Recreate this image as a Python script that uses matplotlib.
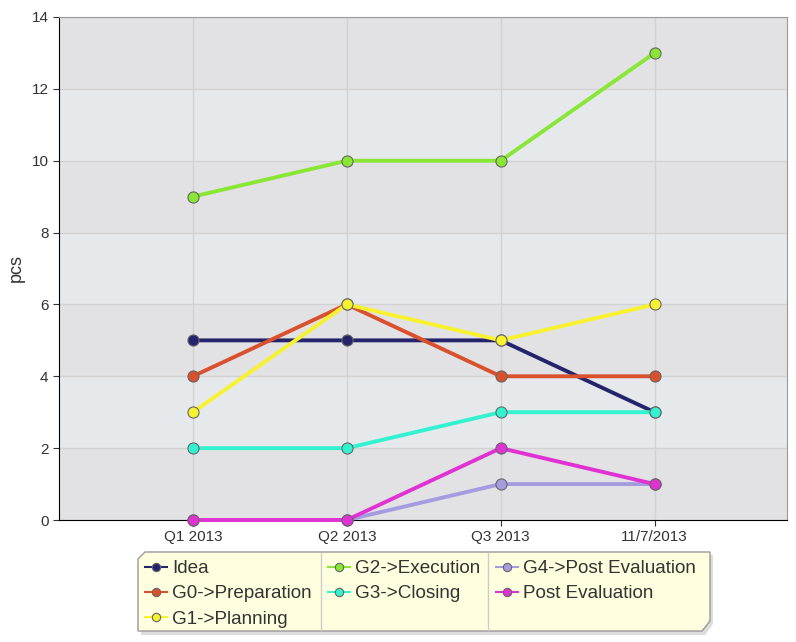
import matplotlib.pyplot as plt
from matplotlib.lines import Line2D
from matplotlib.patches import Polygon

plt.rcParams['font.family'] = ['Liberation Sans', 'DejaVu Sans']

categorias = ["Q1 2013", "Q2 2013", "Q3 2013", "11/7/2013"]
series = ["Idea", "G0->Preparation", "G1->Planning", "G2->Execution",
          "G3->Closing", "G4->Post Evaluation", "Post Evaluation"]
idea = [5, 5, 5, 3]
g0_preparation = [4, 6, 4, 4]
g1_planning = [3, 6, 5, 6]
g2_execution = [9, 10, 10, 13]
g3_closing = [2, 2, 3, 3]
g4_post_evaluation = [0, 0, 1, 1]
post_evaluation = [0, 0, 2, 1]
colores = ["#25236b", "#d9502c", "#f7f230", "#8ae635", "#33f2cf", "#a59ce0", "#e032d2"]

valores = [idea, g0_preparation, g1_planning, g2_execution,
           g3_closing, g4_post_evaluation, post_evaluation]

W, H = 796, 642
fig = plt.figure(figsize=(W / 100, H / 100), dpi=100)
ax = fig.add_axes([59 / W, 1 - 520 / H, (787 - 59) / W, (520 - 17) / H])

# Bandas alternadas de fondo
for i, y0 in enumerate(range(0, 14, 2)):
    color = "#e2e2e5" if i % 2 == 0 else "#e6e9ec"
    ax.axhspan(y0, y0 + 2, color=color, zorder=0, lw=0)

ax.grid(True, color="#d2d2d2", lw=1, zorder=1)

x = list(range(len(categorias)))
# Las ultimas series quedan encima
for k, (nombre, ys, color) in enumerate(zip(series, valores, colores)):
    ax.plot(x, ys, color=color, lw=2.8, marker="o", markersize=8,
            markerfacecolor=color, markeredgecolor="#666666", markeredgewidth=0.8,
            label=nombre, zorder=3 + k, clip_on=False)

ax.set_xlim(-0.87, 3.86)
ax.set_ylim(0, 14)
ax.set_yticks(range(0, 15, 2))
ax.set_xticks(x)
ax.set_xticklabels(categorias)
ax.tick_params(labelsize=11, colors="#333333", length=4)
ax.set_ylabel("pcs", fontsize=13, color="#333333")
ax.yaxis.set_label_coords(-34 / 728, 0.5)

ax.spines["left"].set_color("black")
ax.spines["bottom"].set_color("black")
ax.spines["top"].set_color("#999999")
ax.spines["right"].set_color("#999999")
ax.set_axisbelow(True)

# Caja de la leyenda con esquinas cortadas
def fp(px, py):
    return (px / W, 1 - py / H)

sombra = Polygon([fp(x_, y_) for x_, y_ in
                  [(141, 562), (148, 555), (713, 555), (713, 624), (705, 635), (141, 635)]],
                 closed=True, transform=fig.transFigure, facecolor="#dddddd",
                 edgecolor="none", zorder=0)
caja = Polygon([fp(x_, y_) for x_, y_ in
                [(138, 559), (145, 552), (710, 552), (710, 621), (702, 631), (138, 631)]],
               closed=True, transform=fig.transFigure, facecolor="#ffffdf",
               edgecolor="#999999", lw=1, zorder=1)
fig.add_artist(sombra)
fig.add_artist(caja)
for xs in (321, 488):
    fig.add_artist(Line2D([xs / W, xs / W], [1 - 553 / H, 1 - 630 / H],
                          color="#cccccc", lw=1, transform=fig.transFigure, zorder=2))

handles, labels = ax.get_legend_handles_labels()
leg = fig.legend(handles, labels, ncol=3, loc="upper left",
                 bbox_to_anchor=(138 / W, 1 - 553 / H),
                 fontsize=13.6, frameon=False, labelcolor="#333333",
                 handlelength=1.16, handletextpad=0.27, columnspacing=0.85,
                 labelspacing=0.42, borderpad=0.37, borderaxespad=0)
leg.set_zorder(3)
for h in leg.legend_handles:
    h.set_markersize(6)
    h.set_linewidth(1.5)
    h.set_markeredgecolor("#666666")

fig.savefig("out.png", dpi=100)
